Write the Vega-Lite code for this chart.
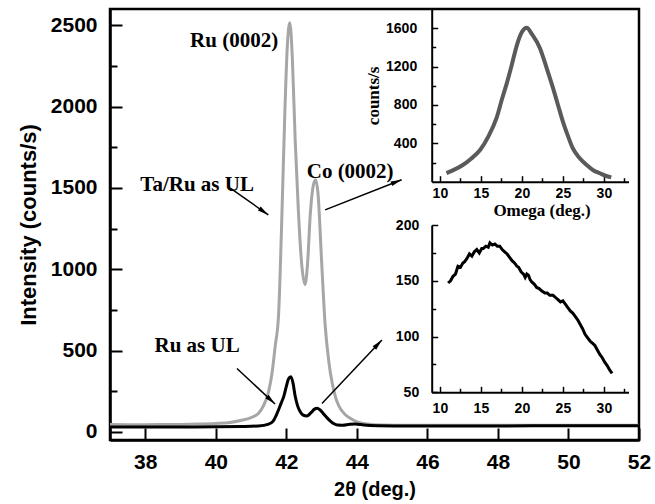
{
  "$schema": "https://vega.github.io/schema/vega-lite/v6.json",
  "autosize": {"type": "none"},
  "padding": {"left": 110, "top": 9, "right": 16, "bottom": 64},
  "width": 529,
  "height": 431,
  "background": "white",
  "config": {
    "view": {"stroke": "black", "strokeWidth": 2.5},
    "axis": {
      "grid": false, "domainColor": "black", "tickColor": "black", "labelColor": "black", "titleColor": "black",
      "labelFont": "Liberation Sans", "labelFontWeight": "bold", "titleFont": "Liberation Sans", "titleFontWeight": "bold",
      "labelOverlap": false, "labelFlush": false, "ticks": true
    }
  },
  "datasets": {
    "gray": [{"x":37,"y":45},{"x":37.5,"y":44},{"x":38,"y":44},{"x":38.5,"y":45},{"x":39,"y":46},{"x":39.5,"y":48},{"x":40,"y":52},{"x":40.4,"y":58},{"x":40.7,"y":70},{"x":41,"y":88},{"x":41.2,"y":112},{"x":41.35,"y":160},{"x":41.5,"y":250},{"x":41.6,"y":370},{"x":41.68,"y":520},{"x":41.78,"y":720},{"x":41.87,"y":1300},{"x":41.96,"y":1980},{"x":42.03,"y":2380},{"x":42.1,"y":2515},{"x":42.17,"y":2300},{"x":42.25,"y":1800},{"x":42.34,"y":1365},{"x":42.44,"y":1020},{"x":42.53,"y":905},{"x":42.6,"y":1030},{"x":42.68,"y":1340},{"x":42.76,"y":1510},{"x":42.83,"y":1550},{"x":42.9,"y":1460},{"x":43,"y":1050},{"x":43.1,"y":660},{"x":43.2,"y":440},{"x":43.3,"y":300},{"x":43.4,"y":210},{"x":43.5,"y":155},{"x":43.65,"y":110},{"x":43.8,"y":85},{"x":44,"y":62},{"x":44.3,"y":48},{"x":44.7,"y":42},{"x":45.5,"y":40},{"x":47,"y":40},{"x":49,"y":41},{"x":51,"y":41},{"x":52,"y":41}],
    "black": [{"x":37,"y":30},{"x":38,"y":30},{"x":39,"y":30},{"x":40,"y":31},{"x":40.7,"y":33},{"x":41.2,"y":36},{"x":41.5,"y":48},{"x":41.62,"y":65},{"x":41.73,"y":110},{"x":41.85,"y":175},{"x":41.93,"y":220},{"x":42,"y":280},{"x":42.06,"y":325},{"x":42.13,"y":339},{"x":42.19,"y":300},{"x":42.25,"y":220},{"x":42.32,"y":160},{"x":42.39,"y":125},{"x":42.48,"y":103},{"x":42.58,"y":97},{"x":42.7,"y":118},{"x":42.8,"y":140},{"x":42.87,"y":145},{"x":42.95,"y":136},{"x":43.05,"y":112},{"x":43.14,"y":90},{"x":43.25,"y":66},{"x":43.35,"y":50},{"x":43.45,"y":42},{"x":43.6,"y":41},{"x":43.8,"y":47},{"x":43.95,"y":48},{"x":44.2,"y":42},{"x":44.6,"y":38},{"x":45.5,"y":36},{"x":47,"y":36},{"x":49,"y":37},{"x":52,"y":37}],
    "arrows": [{"id":"taru","x":40.41,"y":1499,"xe":41.49,"ye":1334},{"id":"co","x":43.1,"y":1365,"xe":45.27,"ye":1550},{"id":"ru","x":40.6,"y":390,"xe":41.68,"ye":171},{"id":"low","x":43.01,"y":175,"xe":44.71,"ye":565}],
    "labels": [{"text":"Ru (0002)","x":40.52,"y":2405},{"text":"Ta/Ru as UL","x":39.47,"y":1519},{"text":"Co (0002)","x":43.81,"y":1599},{"text":"Ru as UL","x":39.47,"y":528}],
    "rocking": [{"omega":10.8,"counts":90},{"omega":11.5,"counts":115},{"omega":12.8,"counts":174},{"omega":13.8,"counts":240},{"omega":14.9,"counts":330},{"omega":15.9,"counts":470},{"omega":16.9,"counts":662},{"omega":17.6,"counts":870},{"omega":18.1,"counts":1009},{"omega":18.8,"counts":1230},{"omega":19.4,"counts":1427},{"omega":20,"counts":1560},{"omega":20.6,"counts":1605},{"omega":21.2,"counts":1540},{"omega":22.2,"counts":1392},{"omega":23,"counts":1190},{"omega":23.8,"counts":975},{"omega":24.4,"counts":800},{"omega":25,"counts":626},{"omega":25.6,"counts":480},{"omega":26.2,"counts":349},{"omega":27,"counts":250},{"omega":27.9,"counts":174},{"omega":28.7,"counts":120},{"omega":29.5,"counts":88},{"omega":30.2,"counts":62},{"omega":30.9,"counts":45}],
    "scan": [{"omega":11,"counts":148},{"omega":11.3,"counts":150},{"omega":11.6,"counts":154},{"omega":11.9,"counts":156},{"omega":12.2,"counts":163},{"omega":12.5,"counts":162},{"omega":12.8,"counts":166},{"omega":13,"counts":167},{"omega":13.3,"counts":170},{"omega":13.6,"counts":174},{"omega":13.9,"counts":172},{"omega":14.2,"counts":176},{"omega":14.5,"counts":178},{"omega":14.8,"counts":175},{"omega":15.1,"counts":179},{"omega":15.3,"counts":179},{"omega":15.6,"counts":181},{"omega":15.9,"counts":180},{"omega":16.1,"counts":184},{"omega":16.4,"counts":182},{"omega":16.7,"counts":183},{"omega":17,"counts":181},{"omega":17.3,"counts":181},{"omega":17.6,"counts":178},{"omega":17.9,"counts":176},{"omega":18.2,"counts":174},{"omega":18.5,"counts":171},{"omega":18.8,"counts":168},{"omega":19.1,"counts":166},{"omega":19.4,"counts":163},{"omega":19.6,"counts":162},{"omega":19.9,"counts":158},{"omega":20.2,"counts":156},{"omega":20.4,"counts":153},{"omega":20.6,"counts":156},{"omega":20.8,"counts":155},{"omega":21,"counts":151},{"omega":21.2,"counts":149},{"omega":21.5,"counts":147},{"omega":21.8,"counts":144},{"omega":22.1,"counts":143},{"omega":22.4,"counts":141},{"omega":22.8,"counts":139},{"omega":23.1,"counts":139},{"omega":23.4,"counts":137},{"omega":23.8,"counts":137},{"omega":24.1,"counts":135},{"omega":24.4,"counts":133},{"omega":24.7,"counts":131},{"omega":25,"counts":132},{"omega":25.3,"counts":129},{"omega":25.6,"counts":126},{"omega":25.9,"counts":123},{"omega":26.2,"counts":121},{"omega":26.5,"counts":118},{"omega":26.8,"counts":115},{"omega":27.1,"counts":111},{"omega":27.4,"counts":107},{"omega":27.7,"counts":102},{"omega":28,"counts":99},{"omega":28.3,"counts":96},{"omega":28.6,"counts":94},{"omega":28.9,"counts":92},{"omega":29.2,"counts":88},{"omega":29.5,"counts":84},{"omega":29.8,"counts":81},{"omega":30.1,"counts":77},{"omega":30.4,"counts":74},{"omega":30.7,"counts":70},{"omega":31,"counts":67}]
  },
  "layer": [
    {
      "layer": [
        {
          "data": {"name": "gray"},
          "mark": {"type": "line", "color": "#a6a6a6", "strokeWidth": 3, "interpolate": "monotone"},
          "encoding": {
            "x": {"field": "x", "type": "quantitative", "scale": {"domain": [37, 52], "nice": false, "zero": false},
              "axis": {"title": "2θ (deg.)", "values": [38,39,40,41,42,43,44,45,46,47,48,49,50,51,52], "format": "d",
                "labelExpr": "datum.value % 2 === 0 ? datum.label : ''",
                "tickSize": {"expr": "datum.value % 2 === 0 ? -12 : -7"},
                "labelPadding": 23, "labelFontSize": 21, "titleFontSize": 20, "titlePadding": 7,
                "domainWidth": 2.5, "tickWidth": 2}},
            "y": {"field": "y", "type": "quantitative", "scale": {"domain": [-50, 2600], "nice": false, "zero": false},
              "axis": {"title": "Intensity (counts/s)", "values": [0,250,500,750,1000,1250,1500,1750,2000,2250,2500], "format": "d",
                "labelExpr": "datum.value % 500 === 0 ? datum.label : ''",
                "tickSize": {"expr": "datum.value % 500 === 0 ? -12 : -7"},
                "labelPadding": 25, "labelFontSize": 21, "titleFontSize": 22, "titlePadding": 10,
                "domainWidth": 2.5, "tickWidth": 2}}
          }
        },
        {
          "data": {"name": "black"},
          "mark": {"type": "line", "color": "black", "strokeWidth": 3, "interpolate": "monotone"},
          "encoding": {"x": {"field": "x", "type": "quantitative"}, "y": {"field": "y", "type": "quantitative"}}
        },
        {
          "data": {"name": "arrows"},
          "mark": {"type": "rule", "color": "black", "strokeWidth": 1.5},
          "encoding": {"x": {"field": "x", "type": "quantitative"}, "y": {"field": "y", "type": "quantitative"}, "x2": {"field": "xe"}, "y2": {"field": "ye"}}
        },
        {
          "data": {"name": "arrows"},
          "transform": [{"filter": "datum.id === 'taru'"}],
          "mark": {"type": "point", "shape": "M0,0L0.4,1.8L-0.4,1.8Z", "filled": true, "color": "black", "opacity": 1, "size": 150, "angle": 125},
          "encoding": {"x": {"field": "xe", "type": "quantitative"}, "y": {"field": "ye", "type": "quantitative"}}
        },
        {
          "data": {"name": "arrows"},
          "transform": [{"filter": "datum.id === 'co'"}],
          "mark": {"type": "point", "shape": "M0,0L0.4,1.8L-0.4,1.8Z", "filled": true, "color": "black", "opacity": 1, "size": 150, "angle": 69},
          "encoding": {"x": {"field": "xe", "type": "quantitative"}, "y": {"field": "ye", "type": "quantitative"}}
        },
        {
          "data": {"name": "arrows"},
          "transform": [{"filter": "datum.id === 'ru'"}],
          "mark": {"type": "point", "shape": "M0,0L0.4,1.8L-0.4,1.8Z", "filled": true, "color": "black", "opacity": 1, "size": 150, "angle": 133},
          "encoding": {"x": {"field": "xe", "type": "quantitative"}, "y": {"field": "ye", "type": "quantitative"}}
        },
        {
          "data": {"name": "arrows"},
          "transform": [{"filter": "datum.id === 'low'"}],
          "mark": {"type": "point", "shape": "M0,0L0.4,1.8L-0.4,1.8Z", "filled": true, "color": "black", "opacity": 1, "size": 150, "angle": 43},
          "encoding": {"x": {"field": "xe", "type": "quantitative"}, "y": {"field": "ye", "type": "quantitative"}}
        },
        {
          "data": {"name": "labels"},
          "mark": {"type": "text", "font": "Liberation Serif", "fontWeight": "bold", "fontSize": 21, "color": "black", "align": "center", "baseline": "middle"},
          "encoding": {"x": {"field": "x", "type": "quantitative"}, "y": {"field": "y", "type": "quantitative"}, "text": {"field": "text"}}
        }
      ]
    },
    {
      "data": {"name": "rocking"},
      "mark": {"type": "line", "color": "#5a5a5a", "strokeWidth": 4, "interpolate": "monotone"},
      "encoding": {
        "x": {"field": "omega", "type": "quantitative", "scale": {"domain": [9, 33], "range": [321.7, 518.5], "nice": false, "zero": false},
          "axis": {"orient": "bottom", "offset": -258.3, "title": "Omega (deg.)", "values": [10,12.5,15,17.5,20,22.5,25,27.5,30,32.5],
            "labelExpr": "datum.value % 5 === 0 ? datum.label : ''",
            "tickSize": {"expr": "datum.value % 5 === 0 ? -6 : -4"},
            "labelPadding": 11, "labelFontSize": 14, "titleFont": "Liberation Serif", "titleFontSize": 17, "titlePadding": 0, "titleX": 431.5,
            "domainWidth": 2, "tickWidth": 1.5}},
        "y": {"field": "counts", "type": "quantitative", "scale": {"domain": [0, 1800], "range": [172.7, 0], "nice": false, "zero": false},
          "axis": {"orient": "left", "offset": -321.7, "title": "counts/s", "values": [200,400,600,800,1000,1200,1400,1600], "format": "d",
            "labelExpr": "datum.value % 400 === 0 ? datum.label : ''",
            "tickSize": {"expr": "datum.value % 400 === 0 ? -6 : -4"},
            "labelPadding": 21, "labelFontSize": 14, "titleFont": "Liberation Serif", "titleFontSize": 17, "titlePadding": 3,
            "domainWidth": 2, "tickWidth": 1.5}}
      }
    },
    {
      "data": {"name": "scan"},
      "mark": {"type": "line", "color": "black", "strokeWidth": 3},
      "encoding": {
        "x": {"field": "omega", "type": "quantitative", "scale": {"domain": [9, 33], "range": [321.7, 518.5], "nice": false, "zero": false},
          "axis": {"orient": "bottom", "offset": -47.7, "title": null, "values": [10,12.5,15,17.5,20,22.5,25,27.5,30,32.5],
            "labelExpr": "datum.value % 5 === 0 ? datum.label : ''",
            "tickSize": {"expr": "datum.value % 5 === 0 ? -6 : -4"},
            "labelPadding": 15, "labelFontSize": 14, "domainWidth": 2, "tickWidth": 1.5}},
        "y": {"field": "counts", "type": "quantitative", "scale": {"domain": [50, 200], "range": [383.3, 216], "nice": false, "zero": false},
          "axis": {"orient": "left", "offset": -321.7, "title": null, "values": [50,75,100,125,150,175,200], "format": "d",
            "labelExpr": "datum.value % 50 === 0 ? datum.label : ''",
            "tickSize": {"expr": "datum.value % 50 === 0 ? -6 : -4"},
            "labelPadding": 19, "labelFontSize": 14, "domainWidth": 2, "tickWidth": 1.5}}
      }
    }
  ],
  "resolve": {"scale": {"x": "independent", "y": "independent"}, "axis": {"x": "independent", "y": "independent"}}
}
